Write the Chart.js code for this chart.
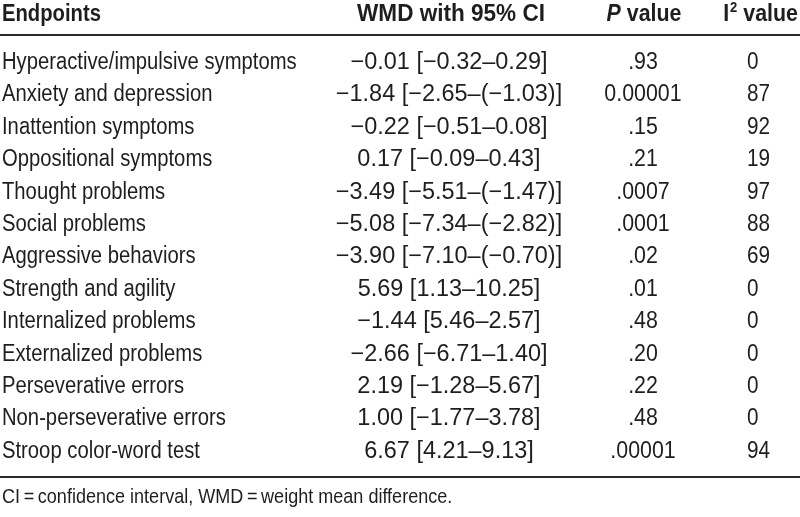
<!DOCTYPE html>
<html>
<head>
<meta charset="utf-8">
<script src="https://cdn.jsdelivr.net/npm/chart.js@4"></script>
<style>
  html, body { margin: 0; padding: 0; background: #fff; }
  #table { display: block; }
</style>
</head>
<body>
<canvas id="table" width="800" height="517"></canvas>
<script>
// table contents
const endpoints = [
  "Hyperactive/impulsive symptoms",
  "Anxiety and depression",
  "Inattention symptoms",
  "Oppositional symptoms",
  "Thought problems",
  "Social problems",
  "Aggressive behaviors",
  "Strength and agility",
  "Internalized problems",
  "Externalized problems",
  "Perseverative errors",
  "Non-perseverative errors",
  "Stroop color-word test",
];
const wmdCI = [
  "\u22120.01 [\u22120.32\u20130.29]",
  "\u22121.84 [\u22122.65\u2013(\u22121.03)]",
  "\u22120.22 [\u22120.51\u20130.08]",
  "0.17 [\u22120.09\u20130.43]",
  "\u22123.49 [\u22125.51\u2013(\u22121.47)]",
  "\u22125.08 [\u22127.34\u2013(\u22122.82)]",
  "\u22123.90 [\u22127.10\u2013(\u22120.70)]",
  "5.69 [1.13\u201310.25]",
  "\u22121.44 [5.46\u20132.57]",
  "\u22122.66 [\u22126.71\u20131.40]",
  "2.19 [\u22121.28\u20135.67]",
  "1.00 [\u22121.77\u20133.78]",
  "6.67 [4.21\u20139.13]",
];
const pValues = [".93", "0.00001", ".15", ".21", ".0007", ".0001", ".02", ".01", ".48", ".20", ".22", ".48", ".00001"];
const i2Values = ["0", "87", "92", "19", "97", "88", "69", "0", "0", "0", "0", "0", "94"];
const footnote = "CI\u2009=\u2009confidence interval, WMD\u2009=\u2009weight mean difference.";

// no narrow font installed, so squeeze Liberation Sans horizontally
const FONT = '"Liberation Sans", Arial, sans-serif';
const INK = "#1e1e1e";

function text(ctx, str, x, y, align, font, sx = 0.88) {
  ctx.save();
  ctx.font = font;
  ctx.textAlign = align;
  ctx.translate(x, y);
  ctx.scale(sx, 1);
  ctx.fillText(str, 0, 0);
  ctx.restore();
}

function width(ctx, str, font, sx = 0.88) {
  ctx.save();
  ctx.font = font;
  const w = ctx.measureText(str).width * sx;
  ctx.restore();
  return w;
}

const tablePlugin = {
  id: "tablePlugin",
  afterDraw(chart) {
    const { ctx } = chart;
    const x = chart.scales.x;
    const y = chart.scales.y;
    // y scale gives the middle of a row; shift down to the baseline
    const base = (r) => y.getPixelForValue(r) + 8;

    ctx.save();
    ctx.fillStyle = INK;
    ctx.textBaseline = "alphabetic";

    const bold = "bold 23px " + FONT;
    const boldIt = "italic bold 23px " + FONT;

    // header
    const hy = base(-1.48);
    text(ctx, "Endpoints", x.getPixelForValue(2), hy, "left", bold);
    text(ctx, "WMD with 95% CI", x.getPixelForValue(451), hy, "center", bold, 0.98);

    const hs = 0.93;
    const pW = width(ctx, "P", boldIt, hs);
    const vW = width(ctx, " value", bold, hs);
    const px = x.getPixelForValue(644) - (pW + vW) / 2;
    text(ctx, "P", px, hy, "left", boldIt, hs);
    text(ctx, " value", px + pW, hy, "left", bold, hs);

    const right = x.getPixelForValue(798);
    const supFont = "bold 14px " + FONT;
    const supW = width(ctx, "2", supFont, hs);
    text(ctx, " value", right, hy, "right", bold, hs);
    text(ctx, "2", right - vW, hy - 9, "right", supFont, hs);
    text(ctx, "I", right - vW - supW - 1, hy, "right", bold, hs);

    // rules
    ctx.strokeStyle = "#2a2a2a";
    ctx.lineWidth = 2;
    [-0.79, 12.85].forEach((r) => {
      const ly = Math.round(y.getPixelForValue(r));
      ctx.beginPath();
      ctx.moveTo(x.getPixelForValue(0), ly);
      ctx.lineTo(x.getPixelForValue(800), ly);
      ctx.stroke();
    });

    // body rows
    const reg = "23px " + FONT;
    endpoints.forEach((name, i) => {
      const by = base(i);
      text(ctx, name, x.getPixelForValue(2), by, "left", reg);
      text(ctx, wmdCI[i], x.getPixelForValue(449), by, "center", reg, 1.02);
      text(ctx, pValues[i], x.getPixelForValue(643), by, "center", reg, 0.93);
      text(ctx, i2Values[i], x.getPixelForValue(747), by, "left", reg, 0.9);
    });

    // footnote
    text(ctx, footnote, x.getPixelForValue(2), base(13.37) + 1, "left", "20.5px " + FONT);
    ctx.restore();
  },
};

new Chart(document.getElementById("table"), {
  type: "scatter",
  data: {
    datasets: [{
      data: endpoints.map((_, i) => ({ x: 0, y: i })),
      pointRadius: 0,
      showLine: false,
    }],
  },
  options: {
    responsive: false,
    animation: false,
    layout: { padding: 0 },
    plugins: { legend: { display: false }, tooltip: { enabled: false } },
    scales: {
      x: { type: "linear", min: 0, max: 800, display: false },
      y: { type: "linear", reverse: true, min: -1.88, max: 14.07, display: false },
    },
  },
  plugins: [tablePlugin],
});
</script>
</body>
</html>
